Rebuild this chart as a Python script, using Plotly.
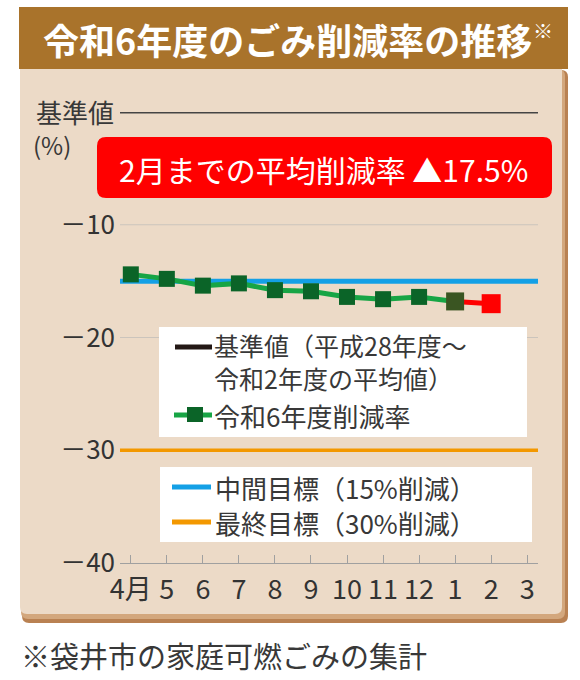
import plotly.graph_objects as go

# chart values
MONTHS = ["4月", "5", "6", "7", "8", "9", "10", "11", "12", "1", "2", "3"]
RATE = [-14.4, -14.8, -15.4, -15.2, -15.8, -15.9, -16.4, -16.6, -16.4, -16.8, -17.0]
BASELINE = 0
MID_TARGET = -15
FINAL_TARGET = -30
GRID_VALUES = [-10, -20]
Y_TICKS = [-40, -30, -20, -10]
Y_TICK_TEXT = ["－40", "－30", "－20", "－10"]

TITLE = "令和6年度のごみ削減率の推移"
AVG_TEXT = "2月までの平均削減率 ▲17.5%"
FOOTNOTE = "※袋井市の家庭可燃ごみの集計"

FONT = "Noto Sans CJK JP"
TEXT_COLOR = "#383838"

W, H = 580, 680
L, R, T, B = 120, 538, 112, 563  # plot area in pixels


def px(x):
    return (x - L) / (R - L)


def py(y):
    return (B - y) / (B - T)


def round_rect(x0, y0, x1, y1, r):
    # rounded rectangle path in paper coords from pixel corners
    pts = [
        "M %f,%f" % (px(x0 + r), py(y0)),
        "L %f,%f" % (px(x1 - r), py(y0)),
        "Q %f,%f %f,%f" % (px(x1), py(y0), px(x1), py(y0 + r)),
        "L %f,%f" % (px(x1), py(y1 - r)),
        "Q %f,%f %f,%f" % (px(x1), py(y1), px(x1 - r), py(y1)),
        "L %f,%f" % (px(x0 + r), py(y1)),
        "Q %f,%f %f,%f" % (px(x0), py(y1), px(x0), py(y1 - r)),
        "L %f,%f" % (px(x0), py(y0 + r)),
        "Q %f,%f %f,%f" % (px(x0), py(y0), px(x0 + r), py(y0)),
        "Z",
    ]
    return " ".join(pts)


def rect(x0, y0, x1, y1, color, layer="below"):
    return dict(type="rect", xref="paper", yref="paper",
                x0=px(x0), x1=px(x1), y0=py(y1), y1=py(y0),
                fillcolor=color, line=dict(width=0), layer=layer)


def seg(x0, x1, y, color, width, layer="above"):
    return dict(type="line", xref="paper", yref="paper",
                x0=px(x0), x1=px(x1), y0=py(y), y1=py(y),
                line=dict(color=color, width=width), layer=layer)


def hline(value, color, width):
    return dict(type="line", xref="paper", yref="y", x0=0, x1=1,
                y0=value, y1=value, line=dict(color=color, width=width),
                layer="below")


fig = go.Figure()

# february segment (red) drawn first so the january marker sits on top
fig.add_trace(go.Scatter(
    x=MONTHS[9:11], y=RATE[9:11], mode="lines+markers", opacity=1,
    line=dict(color="#ff0000", width=5),
    marker=dict(symbol="square", size=[0, 19], color="#ff0000", opacity=1,
                line=dict(width=0)),
    showlegend=False, hoverinfo="skip"))

marker_colors = ["#0b6428"] * 9 + ["#3a5522"]
marker_sizes = [16] * 9 + [18]
fig.add_trace(go.Scatter(
    x=MONTHS[:10], y=RATE[:10], mode="lines+markers", opacity=1,
    line=dict(color="#17a545", width=5),
    marker=dict(symbol="square", size=marker_sizes, color=marker_colors,
                opacity=1, line=dict(width=0)),
    showlegend=False, hoverinfo="skip"))

shapes = []
# frame: shadow, panel, title band
shapes.append(dict(type="path", xref="paper", yref="paper",
                   path=round_rect(22, 70, 568, 623, 7),
                   fillcolor="#b98152", line=dict(width=0), layer="below"))
shapes.append(dict(type="path", xref="paper", yref="paper",
                   path=round_rect(21, 69, 565, 619, 7),
                   fillcolor="#d3a77d", line=dict(width=0), layer="below"))
shapes.append(dict(type="path", xref="paper", yref="paper",
                   path=round_rect(20, 60, 562, 614, 7),
                   fillcolor="#ecdac7", line=dict(width=0), layer="below"))
shapes.append(rect(19, 7, 568, 69, "#a9732b"))

# grid and reference lines
for g in GRID_VALUES:
    shapes.append(hline(g, "#cbc4bc", 1))
shapes.append(hline(MID_TARGET, "#14a0e6", 5))
shapes.append(hline(FINAL_TARGET, "#f39800", 3.5))
shapes.append(hline(BASELINE, "#444444", 3))

# red average box
shapes.append(dict(type="path", xref="paper", yref="paper",
                   path=round_rect(97, 137, 552, 198, 9),
                   fillcolor="#ff0000", line=dict(width=0), layer="above"))

# legend boxes
shapes.append(rect(159, 327, 527, 437, "white", "above"))
shapes.append(rect(160, 467, 532, 542, "white", "above"))
shapes.append(seg(175, 212, 347, "#231815", 5))
shapes.append(seg(174, 212, 415, "#17a545", 5))
shapes.append(rect(187, 407, 203, 422, "#0b6428", "above"))
shapes.append(seg(172, 211, 487, "#14a0e6", 5))
shapes.append(seg(172, 211, 522, "#f39800", 5))


def label(text, x, y, size, color=TEXT_COLOR, anchor="left"):
    return dict(text=text, xref="paper", yref="paper", x=px(x), y=py(y),
                xanchor=anchor, yanchor="middle", showarrow=False,
                borderpad=0, align="left",
                font=dict(family=FONT, size=size, color=color))


annotations = [
    label("<b>" + TITLE + "</b>", 42, 39, 36, "white"),
    label("※", 532, 31, 20, "white"),
    label("基準値", 35, 111, 26),
    label("(%)", 32, 144, 24),
    label(AVG_TEXT, 323, 169, 30, "white", "center"),
    label("基準値（平成28年度～<br>令和2年度の平均値）", 213, 361, 25),
    label("令和6年度削減率", 213, 415, 26),
    label("中間目標（15%削減）", 214, 487, 26),
    label("最終目標（30%削減）", 214, 522, 26),
    label(FOOTNOTE, 20, 655, 29),
]

fig.update_layout(
    width=W, height=H,
    margin=dict(l=L, r=W - R, t=T, b=H - B, pad=0),
    paper_bgcolor="white",
    plot_bgcolor="rgba(0,0,0,0)",
    font=dict(family=FONT, color=TEXT_COLOR),
    shapes=shapes,
    annotations=annotations,
    showlegend=False,
)

fig.update_xaxes(
    type="category", categoryorder="array", categoryarray=MONTHS,
    tickvals=MONTHS, range=[-0.3, 11.3],
    showgrid=False, zeroline=False,
    showline=True, linecolor="#a0a0a0", linewidth=1,
    ticks="inside", ticklen=8, tickcolor="#a0a0a0", tickwidth=1,
    tickfont=dict(family=FONT, size=27, color="#333333"),
    ticklabelstandoff=3,
)
fig.update_yaxes(
    range=[-40, 0], tickvals=Y_TICKS, ticktext=Y_TICK_TEXT,
    showgrid=False, zeroline=False, showline=False, ticks="",
    tickfont=dict(family=FONT, size=26, color="#333333"),
    ticklabelstandoff=4,
)

# the page's default body margin would push the figure 8px right and down
fig.write_html("out.html", config={"displayModeBar": False},
               post_script="document.body.style.margin='0';")
